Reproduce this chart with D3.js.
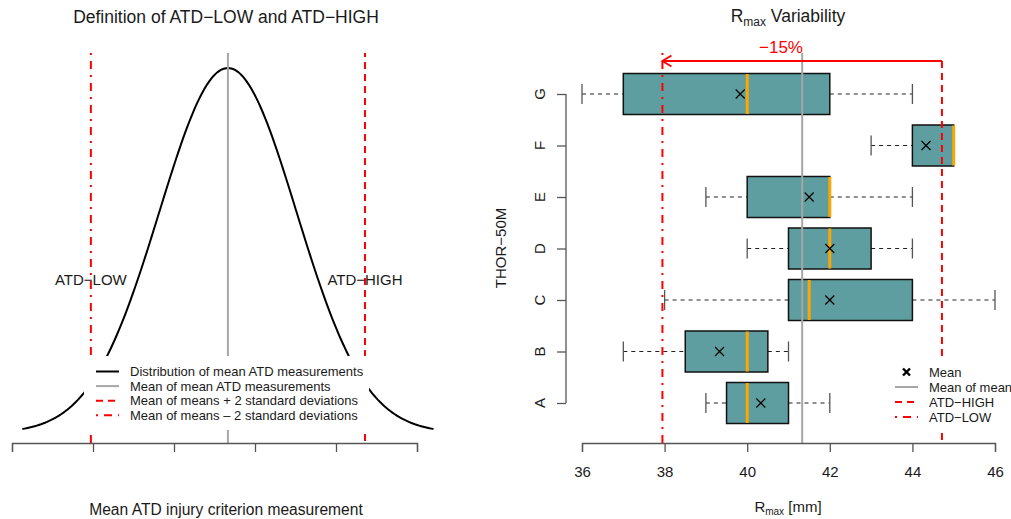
<!DOCTYPE html>
<html>
<head>
<meta charset="utf-8">
<script src="https://cdn.jsdelivr.net/npm/d3@7"></script>
<style>
  body { margin: 0; background: #fff; }
  text { font-family: "Liberation Sans", Arial, sans-serif; fill: #1a1a1a; }
</style>
</head>
<body>
<div id="chart"></div>
<script>
// boxplot data (mm)
let categories  = ['A', 'B', 'C', 'D', 'E', 'F', 'G'];
let whiskerLow  = [39,   37,   38,   40, 39,   43,    36];
let boxLow      = [39.5, 38.5, 41,   41, 40,   44,    37];
let medians     = [40,   40,   41.5, 42, 42,   45,    40];
let boxHigh     = [41,   40.5, 44,   43, 42,   45,    42];
let whiskerHigh = [42,   41,   46,   44, 44,   45,    44];
let means       = [40.33, 39.33, 42, 42, 41.5, 44.33, 39.83];
let xTicks = [36, 38, 40, 42, 44, 46];

let legendLeft = [
  {label: 'Distribution of mean ATD measurements', color: 'black', dash: null},
  {label: 'Mean of mean ATD measurements', color: '#a6a6a6', dash: null},
  {label: 'Mean of means + 2 standard deviations', color: 'red', dash: '7,5'},
  {label: 'Mean of means \u2013 2 standard deviations', color: 'red', dash: '2,6,8,6'}
];
let legendRight = [
  {label: 'Mean', type: 'x'},
  {label: 'Mean of mean', color: '#a6a6a6', dash: null},
  {label: 'ATD\u2212HIGH', color: 'red', dash: '7,5'},
  {label: 'ATD\u2212LOW', color: 'red', dash: '2,6,8,6'}
];

let dim = {width: 1011, height: 519};
let svg = d3.select('#chart').append('svg')
  .attr('width', dim.width).attr('height', dim.height);

// derived statistics
let meanOfMeans = d3.mean(means);
let sdMeans = d3.deviation(means);
let atdHigh = meanOfMeans + 2 * sdMeans;
let atdLow = meanOfMeans - 2 * sdMeans;

let axisCol = '#555';
let plotTop = 53, plotBottom = 443;

function cross(sel, cx, cy, r, w) {
  sel.append('path')
    .attr('d', `M${cx - r},${cy - r}L${cx + r},${cy + r}M${cx - r},${cy + r}L${cx + r},${cy - r}`)
    .attr('stroke', 'black').attr('stroke-width', w).attr('fill', 'none');
}

function bottomAxis(g, scale, labels) {
  let ax = d3.axisBottom(scale).tickValues(xTicks).tickSize(9).tickPadding(14);
  if (!labels) ax.tickFormat('');
  g.attr('transform', `translate(0, ${plotBottom})`).call(ax);
  g.select('.domain').attr('stroke', axisCol).attr('stroke-width', 1.3);
  g.selectAll('.tick line').attr('stroke', axisCol).attr('stroke-width', 1.3);
  g.selectAll('.tick text').attr('font-size', 15).style('fill', '#1a1a1a')
    .attr('font-family', '"Liberation Sans", Arial, sans-serif');
}

// ---------------- left panel ----------------
let xL = d3.scaleLinear().domain([36, 46]).range([12, 417]);
function dens(v) {
  let z = (v - meanOfMeans) / sdMeans;
  return Math.exp(-0.5 * z * z) / (sdMeans * Math.sqrt(2 * Math.PI));
}
let curveX = d3.range(0, 201).map(i => meanOfMeans - 3 * sdMeans + i * 6 * sdMeans / 200);
let curve = curveX.map(v => ({x: v, y: dens(v)}));
let yL = d3.scaleLinear().domain(d3.extent(curve, d => d.y)).range([429, 68]);

let left = svg.append('g');
left.append('text').attr('x', 226).attr('y', 23).attr('text-anchor', 'middle')
  .attr('font-size', 17.5).text('Definition of ATD\u2212LOW and ATD\u2212HIGH');

left.append('path').datum(curve)
  .attr('d', d3.line().x(d => xL(d.x)).y(d => yL(d.y)))
  .attr('fill', 'none').attr('stroke', 'black').attr('stroke-width', 2);

left.append('line').attr('x1', xL(meanOfMeans)).attr('x2', xL(meanOfMeans))
  .attr('y1', plotTop).attr('y2', plotBottom).attr('stroke', '#a6a6a6').attr('stroke-width', 2);
left.append('line').attr('x1', xL(atdLow)).attr('x2', xL(atdLow))
  .attr('y1', plotTop).attr('y2', plotBottom).attr('stroke', 'red').attr('stroke-width', 2)
  .attr('stroke-dasharray', '2,6,8,6');
left.append('line').attr('x1', xL(atdHigh)).attr('x2', xL(atdHigh))
  .attr('y1', plotTop).attr('y2', plotBottom).attr('stroke', 'red').attr('stroke-width', 2)
  .attr('stroke-dasharray', '7,5').attr('stroke-dashoffset', 3);

left.append('text').attr('x', xL(atdLow)).attr('y', 285).attr('text-anchor', 'middle')
  .attr('font-size', 15).text('ATD\u2212LOW');
left.append('text').attr('x', xL(atdHigh)).attr('y', 285).attr('text-anchor', 'middle')
  .attr('font-size', 15).text('ATD\u2212HIGH');

// legend with white background
let lgL = left.append('g');
lgL.append('rect').attr('x', 84).attr('y', 356).attr('width', 285).attr('height', 74).attr('fill', 'white');
legendLeft.forEach((d, i) => {
  let yy = 371.5 + i * 14.6;
  lgL.append('line').attr('x1', 96).attr('x2', 119).attr('y1', yy).attr('y2', yy)
    .attr('stroke', d.color).attr('stroke-width', 2).attr('stroke-dasharray', d.dash);
  lgL.append('text').attr('x', 130).attr('y', yy + 4.5).attr('font-size', 13).text(d.label);
});

bottomAxis(left.append('g'), xL, false);
left.append('text').attr('x', 226).attr('y', 515).attr('text-anchor', 'middle')
  .attr('font-size', 15.6).text('Mean ATD injury criterion measurement');

// ---------------- right panel ----------------
let xR = d3.scaleLinear().domain([36, 46]).range([582, 995]);
let yR = d3.scalePoint().domain(categories).range([403, 94]);
let boxH = 41, capH = 20;
let right = svg.append('g');

let rt = right.append('text').attr('x', 788).attr('y', 22).attr('text-anchor', 'middle').attr('font-size', 17.5);
rt.append('tspan').text('R');
rt.append('tspan').attr('font-size', 12).attr('dy', 3.5).text('max');
rt.append('tspan').attr('dy', -3.5).text(' Variability');

categories.forEach((c, i) => {
  let cy = yR(c);
  let g = right.append('g');
  // whiskers
  g.append('line').attr('x1', xR(whiskerLow[i])).attr('x2', xR(boxLow[i])).attr('y1', cy).attr('y2', cy)
    .attr('stroke', '#222').attr('stroke-width', 1.2).attr('stroke-dasharray', '4,4');
  g.append('line').attr('x1', xR(boxHigh[i])).attr('x2', xR(whiskerHigh[i])).attr('y1', cy).attr('y2', cy)
    .attr('stroke', '#222').attr('stroke-width', 1.2).attr('stroke-dasharray', '4,4');
  [whiskerLow[i], whiskerHigh[i]].forEach(w => {
    g.append('line').attr('x1', xR(w)).attr('x2', xR(w)).attr('y1', cy - capH / 2).attr('y2', cy + capH / 2)
      .attr('stroke', '#555').attr('stroke-width', 1.3);
  });
  // box
  g.append('rect').attr('x', xR(boxLow[i])).attr('y', cy - boxH / 2)
    .attr('width', xR(boxHigh[i]) - xR(boxLow[i])).attr('height', boxH)
    .attr('fill', '#5F9EA0').attr('stroke', '#111').attr('stroke-width', 1.5);
  // median
  g.append('line').attr('x1', xR(medians[i])).attr('x2', xR(medians[i]))
    .attr('y1', cy - boxH / 2 + 0.5).attr('y2', cy + boxH / 2 - 0.5)
    .attr('stroke', 'orange').attr('stroke-width', 3);
  cross(g, xR(means[i]), cy, 4.5, 1.2);
});

// reference lines
right.append('line').attr('x1', xR(meanOfMeans)).attr('x2', xR(meanOfMeans))
  .attr('y1', plotTop).attr('y2', plotBottom).attr('stroke', '#a6a6a6').attr('stroke-width', 2);
right.append('line').attr('x1', xR(atdLow)).attr('x2', xR(atdLow))
  .attr('y1', plotTop).attr('y2', plotBottom).attr('stroke', 'red').attr('stroke-width', 2)
  .attr('stroke-dasharray', '2,6,8,6');
right.append('line').attr('x1', xR(atdHigh)).attr('x2', xR(atdHigh))
  .attr('y1', 61).attr('y2', plotBottom).attr('stroke', 'red').attr('stroke-width', 2)
  .attr('stroke-dasharray', '7,5');

// arrow from ATD-HIGH to ATD-LOW
let ay = 61;
right.append('path')
  .attr('d', `M${xR(atdHigh)},${ay}L${xR(atdLow)},${ay}M${xR(atdLow) + 9},${ay - 5.5}L${xR(atdLow)},${ay}L${xR(atdLow) + 9},${ay + 5.5}`)
  .attr('fill', 'none').attr('stroke', 'red').attr('stroke-width', 1.8);
let pct = Math.round((atdLow - atdHigh) / atdHigh * 100);
right.append('text').attr('x', 781).attr('y', 53).attr('text-anchor', 'middle')
  .attr('font-size', 17).style('fill', 'red').text('\u2212' + Math.abs(pct) + '%');

// axes
bottomAxis(right.append('g'), xR, true);
let yAx = right.append('g').attr('transform', 'translate(566, 0)')
  .call(d3.axisLeft(yR).tickSize(9).tickFormat(''));
yAx.select('.domain').attr('stroke', axisCol).attr('stroke-width', 1.3)
  .attr('d', `M-0,${yR('A')}V${yR('G')}`);
yAx.selectAll('.tick line').attr('stroke', axisCol).attr('stroke-width', 1.3);
categories.forEach(c => {
  right.append('text').attr('transform', `translate(545, ${yR(c)}) rotate(-90)`)
    .attr('text-anchor', 'middle').attr('font-size', 15).text(c);
});

right.append('text').attr('transform', 'translate(506, 248) rotate(-90)')
  .attr('text-anchor', 'middle').attr('font-size', 15).text('THOR\u221250M');

let xt = right.append('text').attr('x', 788).attr('y', 512).attr('text-anchor', 'middle').attr('font-size', 15);
xt.append('tspan').text('R');
xt.append('tspan').attr('font-size', 10).attr('dy', 3).text('max');
xt.append('tspan').attr('dy', -3).text(' [mm]');

// right legend, white background over the reference lines
right.append('rect').attr('x', 884).attr('y', 356).attr('width', 127).attr('height', 77).attr('fill', 'white');
legendRight.forEach((d, i) => {
  let yy = 372 + i * 15;
  if (d.type === 'x') {
    cross(right, 906.5, yy, 3.5, 2.4);
  } else {
    right.append('line').attr('x1', 895).attr('x2', 918).attr('y1', yy).attr('y2', yy)
      .attr('stroke', d.color).attr('stroke-width', 2).attr('stroke-dasharray', d.dash);
  }
  right.append('text').attr('x', 929).attr('y', yy + 4.5).attr('font-size', 13).text(d.label);
});
</script>
</body>
</html>
